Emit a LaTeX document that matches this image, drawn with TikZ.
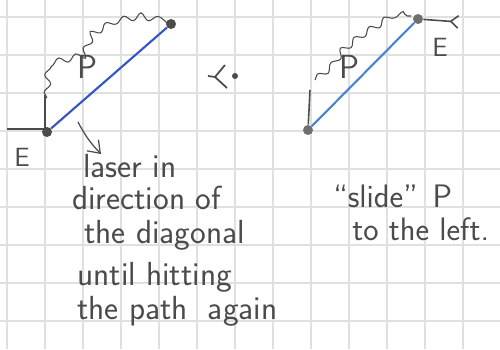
\documentclass[tikz,border=0pt]{standalone}
\usepackage{fontspec}
\usetikzlibrary{arrows.meta,decorations.pathmorphing,calc}
\definecolor{pencil}{RGB}{75,75,75}
\definecolor{ink}{RGB}{50,85,200}
\definecolor{inklight}{RGB}{75,130,215}
\definecolor{gridgray}{RGB}{224,224,224}

\begin{document}
\begin{tikzpicture}[
  x=0.02cm, y=-0.02cm,
  every node/.style={font=\sffamily, text=pencil},
  dot/.style={circle, fill=pencil, inner sep=0pt, minimum size=2mm},
  diag/.style={draw=ink, line width=1.2pt},
  stub/.style={draw=pencil, line width=1.3pt},
  wavy/.style={draw=pencil, line width=0.6pt, decorate,
    decoration={snake, amplitude=1.8pt, segment length=10pt}},
  hand/.style={font=\sffamily\fontsize{19}{22}\selectfont, inner sep=0pt, anchor=base west},
  lbl/.style={font=\sffamily\fontsize{15}{18}\selectfont, inner sep=0pt},
  biglbl/.style={font=\sffamily\fontsize{19}{22}\selectfont, inner sep=0pt},
]
  % paper
  \useasboundingbox (0,0) rectangle (500,349);
  \fill[white] (0,0) rectangle (500,349);
  \foreach \gx in {7,45,...,500} \draw[gridgray, line width=1pt] (\gx,0) -- (\gx,349);
  \foreach \gy in {17,55,...,349} \draw[gridgray, line width=1pt] (0,\gy) -- (500,\gy);

  % left sketch: E at the start
  \coordinate (stubL) at (7,129);
  \coordinate (stubU) at (45,95);
  \draw[stub] (stubL) -- (45,129) -- (stubU);
  \draw[wavy] (47,98) -- (48,72) -- (64,68) -- (82,64) -- (94,36) -- (117,23) -- (143,18) -- (168,23);
  \node[dot] (E1) at (47,132) {};
  \node[dot] (T1) at (171,24) {};
  \draw[diag] (E1) -- (T1);
  \node[biglbl] (P1) at (88,67) {P};
  \node[lbl] (E1lab) at (22,157) {E};

  % laser arrow
  \coordinate (las) at (78,122);
  \coordinate (lasend) at (101,154);
  \draw[pencil, line width=0.7pt, -{Straight Barb[length=2.2mm,width=3.2mm]}] (las) to[bend right=8] (lasend);
  \node[hand] (laser1) at (83,177) {laser in};
  \node[hand] (laser2) at (72,209) {direction of};
  \node[hand] (laser3) at (84,243) {the diagonal};
  \node[hand] (laser4) at (77,285) {until hitting};
  \node[hand] (laser5) at (77,319) {the path\hspace{4mm}again};

  % the sign between the sketches
  \draw[pencil, line width=1pt] (225,65) -- (215,77) -- (227,88);
  \draw[pencil, line width=1pt] (215,77) -- (208,76);
  \fill[pencil] (235,76) circle (3);

  % right sketch: E at the end
  \node[dot, fill=pencil!80] (B2) at (308,130) {};
  \node[dot, fill=pencil!80] (E2) at (418,19) {};
  \coordinate (stubT) at (310,90);
  \coordinate (tail) at (459,22);
  \draw[pencil, line width=0.9pt] (B2) -- (stubT);
  \draw[wavy] (315,80) -- (332,66) -- (341,52) -- (360,37) -- (378,26) -- (393,16) -- (411,16);
  \draw[diag, draw=inklight] (B2) -- (E2);
  \draw[pencil, line width=0.9pt, -{Straight Barb[reversed,length=1.5mm,width=2.5mm]}] (E2) -- (tail);
  \node[biglbl] (P2) at (350,67) {P};
  \node[lbl] (E2lab) at (440,47) {E};

  \node[hand, font=\sffamily\fontsize{18.5}{22}\selectfont] (slide1) at (333,207) {“slide”\hspace{3mm}P};
  \node[hand, font=\sffamily\fontsize{18.5}{22}\selectfont] (slide2) at (352,240) {to the left.};
\end{tikzpicture}
\end{document}
